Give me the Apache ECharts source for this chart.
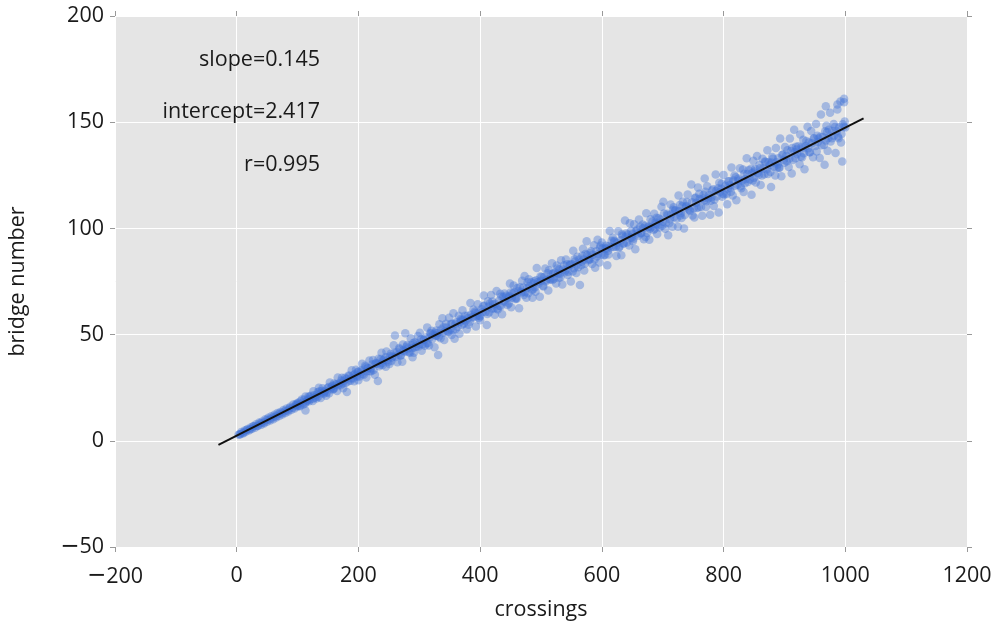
<!DOCTYPE html>
<html>
<head>
<meta charset="utf-8">
<title>bridge number vs crossings</title>
<script src="https://cdn.jsdelivr.net/npm/echarts@6/dist/echarts.min.js"></script>
<style>
  html, body { margin: 0; padding: 0; background: #ffffff; }
  #chart { width: 993px; height: 625px; }
</style>
</head>
<body>
<div id="chart"></div>
<script>
// Sampled knots: crossing count and the matching bridge number
const crossings = [
  3,6,8,11,13,15,18,20,23,25,27,30,32,35,37,40,42,45,47,50,52,55,57,60,62,65,67,70,72,75,77,80,82,85,88,90,93,95,98,100,
  101,104,107,109, 112,113,113,116,118, 120,125,126,129, 131,133,135,138, 141,144,147,149,
  152,153,156,158, 160,165,166,169, 171,173,175,178, 181,184,187,189, 192,193,196,198,
  200,205,206,209, 211,213,215,218, 221,224,227,229, 232,233,236,238, 240,245,246,249,
  251,253,255,258, 260,264,267,269, 272,273,277,278, 280,285,286,289, 291,293,295,298,
  301,304,307,309, 312,313,316,318, 320,325,326,329, 331,333,335,338, 341,344,347,349,
  352,353,356,358, 360,365,366,369, 371,373,375,378, 381,384,387,389, 392,393,396,398,
  400,405,406,409, 411,413,415,418, 421,424,427,429, 432,433,436,438, 440,445,446,449,
  451,453,455,458, 461,464,467,469, 472,473,476,478, 480,485,486,489, 491,493,495,498,
  501,504,507,509, 512,513,516,518, 520,525,526,529, 531,533,535,538, 541,544,547,549,
  552,553,556,558, 560,564,566,569, 571,573,575,578, 581,584,587,589, 592,593,596,598,
  600,605,606,609, 611,613,615,618, 621,624,627,629, 632,633,636,638, 640,645,646,649,
  651,653,655,658, 661,664,667,669, 672,673,676,678, 680,685,686,689, 691,693,695,698,
  701,704,707,709, 712,713,716,718, 720,725,726,729, 731,733,735,738, 741,744,747,749,
  752,753,756,758, 760,765,766,769, 771,773,775,778, 781,784,787,789, 792,793,796,798,
  800,805,806,809, 811,813,815,818, 821,824,827,829, 832,833,836,838, 840,845,846,849,
  851,853,855,858, 861,864,867,869, 872,873,876,878, 880,885,886,889, 891,893,895,898,
  901,904,907,909, 912,913,916,918, 920,925,926,929, 931,933,935,938, 941,944,947,949,
  952,953,956,958, 960,965,966,969, 971,973,975,978, 981,984,987,989, 992,993,996,998,
  998,1000,995,987,968,
  5,10,16,22,28,34,39,44,49,54,59,64,69,74,79,84,87,92,97,99,
  100,103,105,108, 111,114,117,119, 120,122,125,127, 132,134,136,139, 140,143,145,148,
  151,154,157,159, 160,162,165,167, 172,174,176,179, 180,183,185,188, 191,194,197,199,
  200,202,205,207, 212,214,216,219, 220,223,225,228, 231,234,237,239, 240,242,245,247,
  252,254,256,259, 261,263,266,268, 270,274,275,279, 281,283,287,288, 290,292,296,299,
  300,303,305,308, 311,314,317,319, 321,323,327,328, 330,332,336,339, 340,342,345,348,
  351,354,355,359, 361,363,367,368, 370,372,376,379, 380,383,385,388, 391,394,397,399,
  400,402,404,407, 412,414,416,419, 420,422,425,428, 431,434,435,439, 441,443,447,448,
  450,452,456,459, 460,463,465,468, 471,474,477,479, 481,483,487,488, 490,492,496,499,
  500,503,505,508, 511,514,517,519, 521,523,527,528, 530,532,536,539, 540,543,545,548,
  551,554,555,559, 561,563,567,568, 570,572,576,579, 580,582,585,588, 591,594,597,599,
  601,603,607,608, 610,612,616,619, 620,623,625,628, 631,634,635,639, 641,643,647,648,
  650,652,656,659, 660,663,665,668, 671,674,677,679, 681,683,687,688, 690,692,696,699,
  700,702,705,708, 711,714,717,719, 721,723,727,728, 730,732,736,739, 740,742,745,748,
  751,754,755,759, 761,763,767,768, 770,772,776,779, 780,783,785,788, 791,794,797,799,
  801,803,807,808, 810,812,816,819, 820,823,825,828, 831,834,835,839, 841,843,847,848,
  850,852,856,859, 860,863,865,868, 871,874,877,879, 881,883,887,888, 890,892,896,899,
  900,903,905,908, 911,914,917,919, 921,923,927,928, 930,932,936,939, 940,942,945,948,
  951,954,955,959, 961,963,967,968, 970,972,976,979, 981,983,986,988, 990,994,997,999
];
const bridgeNumbers = [
  2.9,3.1,4.2,3.6,4.8,4.3,5.6,4.9,6.3,5.5,6.9,6.2,7.8,7.0,8.6,7.5,9.1,8.2,10.1,9.0,
  10.8,9.6,11.5,10.2,12.3,11.0,13.1,11.7,13.6,12.4,14.5,13.1,15.2,13.8,16.0,14.6,17.1,15.2,17.5,16.2,
  17.9,16.3,19.4,17.0, 17.4,20.9,14.3,18.8,20.8, 20.7,18.7,23.3,20.4, 19.9,22.9,25.0,20.2, 24.7,22.7,21.2,24.9,
  22.4,27.5,25.4,24.2, 27.0,23.5,29.8,27.1, 26.2,29.7,24.7,29.7, 23.0,30.8,28.3,33.2, 31.0,28.0,33.5,30.2,
  28.5,33.2,36.3,31.1, 35.3,29.8,34.1,37.8, 32.8,38.0,31.1,36.6, 28.2,38.6,35.8,41.5, 37.8,34.9,42.0,37.1,
  36.2,41.0,39.1,45.0, 49.6,37.0,43.7,40.2, 37.2,45.3,50.6,42.1, 45.1,41.5,48.3,39.3, 41.4,46.4,44.3,49.3,
  50.9,42.4,47.6,44.8, 45.8,53.4,44.9,50.7, 51.8,44.1,50.9,49.5, 40.4,54.9,48.3,57.7, 47.5,55.1,51.6,57.9,
  55.0,49.8,60.0,48.1, 52.6,58.9,50.4,56.8, 61.5,55.1,58.9,52.5, 54.6,64.9,58.3,61.8, 60.3,53.8,64.3,57.8,
  56.8,63.5,68.4,60.7, 54.5,65.7,60.5,68.7, 64.2,59.3,70.5,61.8, 63.5,69.2,59.6,67.8, 69.4,63.9,67.5,74.0,
  62.9,69.4,73.1,66.8, 71.9,62.4,70.2,75.4, 68.6,77.6,67.4,74.6, 76.1,71.0,67.4,75.1, 70.2,81.3,74.8,67.8,
  77.1,72.6,81.1,75.8, 70.8,80.3,75.9,83.6, 78.8,74.1,82.5,76.6, 78.6,85.0,73.6,82.7, 85.3,78.1,82.6,75.0,
  79.7,89.5,84.4,79.0, 86.6,73.3,82.6,90.4, 80.2,88.0,94.0,85.0, 88.4,83.2,92.1,81.5, 86.8,94.6,84.0,91.9,
  93.4,87.5,90.6,82.6, 87.7,98.8,91.1,95.6, 93.7,87.0,98.7,91.4, 87.4,97.3,92.9,103.7, 97.6,91.9,102.4,95.6,
  93.9,101.9,90.2,99.4, 104.2,97.6,101.8,94.9, 96.0,107.1,100.6,94.7, 104.3,99.3,106.9,102.0, 97.4,104.8,100.4,110.2,
  112.6,99.8,106.9,96.8, 104.3,111.3,100.8,109.9, 108.2,100.8,115.5,106.1, 104.9,112.6,100.0,110.2, 116.0,108.7,120.7,106.1,
  105.1,114.2,109.6,119.3, 116.3,105.9,114.1,123.5, 110.1,119.9,114.1,106.4, 117.9,110.5,125.4,115.0, 107.5,121.5,118.7,114.9,
  125.2,116.2,111.4,122.2, 119.0,128.7,115.5,124.9, 113.3,123.4,128.3,118.9, 127.7,117.1,123.2,133.0, 121.9,128.1,115.8,131.9,
  126.8,121.6,134.1,125.3, 120.4,132.8,125.5,131.3, 136.8,125.6,129.9,119.5, 133.6,124.9,137.8,130.1, 128.5,142.3,124.6,134.8,
  138.3,131.6,128.9,142.3, 125.8,137.8,146.4,133.0, 137.2,130.2,144.2,133.5, 141.7,127.8,138.8,147.9, 135.9,145.9,133.5,142.4,
  149.1,136.2,142.3,133.2, 153.6,139.3,130.0,148.3, 136.5,146.4,154.4,142.4, 149.2,135.5,158.3,142.5, 159.7,140.4,149.0,159.4,
  161.0,147.5,131.5,156.0,157.5,
  3.1,3.7,5.1,5.4,6.8,7.1,8.3,8.5,9.8,10.1,11.0,11.6,12.6,13.0,13.9,14.4,15.3,15.6,16.8,16.6,
  17.4,16.5,18.6,17.8, 19.4,18.3,19.6,18.6, 19.4,21.2,19.8,21.4, 21.8,20.8,23.3,22.4, 23.5,22.2,23.5,22.7,
  25.3,24.3,25.9,24.7, 24.5,26.4,26.8,26.1, 28.4,26.9,28.3,27.2, 29.1,27.9,30.5,29.4, 29.3,31.4,30.8,32.3,
  32.6,30.3,32.4,31.5, 34.7,32.8,34.2,32.7, 34.1,36.0,33.3,36.3, 36.3,35.1,38.5,36.6, 35.7,38.2,39.3,37.9,
  39.8,37.6,39.7,41.5, 39.4,41.7,40.6,43.1, 40.3,42.7,42.2,44.3, 43.5,41.7,45.0,43.6, 46.1,43.9,45.8,44.4,
  45.3,47.8,45.5,47.5, 48.6,46.1,48.6,50.4, 47.8,50.0,49.5,51.9, 50.8,49.0,52.4,50.9, 53.5,51.6,53.3,51.2,
  52.4,55.1,52.0,55.1, 55.8,53.7,55.9,57.4, 54.5,57.0,56.4,58.9, 57.7,56.1,59.4,58.1, 60.8,58.6,60.4,58.9,
  58.5,61.9,60.6,63.6, 59.7,63.2,64.6,62.3, 65.6,62.3,64.5,62.3, 65.9,63.4,67.9,65.8, 65.4,68.3,64.7,68.1,
  69.8,67.3,69.8,67.2, 66.9,70.4,72.3,69.6, 72.2,70.0,71.9,69.5, 72.8,74.6,71.4,74.1, 72.3,75.6,73.9,77.4,
  75.3,73.0,77.1,75.1, 78.9,76.1,78.5,75.7, 76.3,79.1,81.1,78.8, 80.7,77.0,80.7,79.4, 80.2,83.1,79.6,83.1,
  83.1,81.2,85.5,82.9, 81.7,85.3,84.3,87.1, 85.3,83.4,87.5,85.6, 85.4,89.2,87.6,85.4, 89.3,88.0,91.0,87.6,
  90.5,87.4,91.8,90.4, 89.5,91.7,94.2,91.2, 94.2,91.4,93.2,90.9, 94.4,96.5,92.9,96.1, 93.4,97.1,95.6,98.8,
  97.4,95.1,98.7,97.6, 96.6,100.8,97.9,100.1, 101.3,97.8,100.9,99.8, 100.5,103.3,99.8,102.8, 105.0,101.5,104.2,101.2,
  103.1,107.0,102.6,106.2, 102.6,106.6,108.8,105.4, 108.6,104.7,108.1,111.0, 107.3,110.5,106.3,110.5, 112.4,109.4,108.2,112.3,
  109.5,114.6,112.1,109.9, 113.9,110.1,115.8,113.3, 117.2,112.8,115.7,113.0, 114.6,118.4,113.5,117.7, 118.9,117.1,121.0,116.3,
  116.0,120.1,118.7,122.2, 120.4,117.2,122.6,120.1, 124.1,120.5,122.6,119.8, 122.6,125.7,121.3,125.6, 127.4,123.0,126.1,122.5,
  123.8,128.0,126.1,129.9, 128.3,124.9,128.2,131.5, 127.9,131.1,126.6,131.0, 132.8,129.0,131.2,128.7, 133.0,128.6,134.6,132.2,
  130.9,134.2,136.8,132.8, 136.4,132.2,135.9,138.4, 135.0,138.7,133.9,138.3, 137.7,135.4,141.1,137.7, 140.5,135.8,140.1,142.3,
  138.8,143.6,140.7,143.2, 139.2,143.0,145.7,141.4, 145.3,142.6,140.9,145.8, 143.6,147.7,145.7,143.3, 147.6,144.5,147.8,150.3
];

// Least-squares fit shown in the upper-left corner
const slope = 0.145;
const intercept = 2.417;
const rValue = 0.995;
const fitSpan = [-30, 1030];

// Axis ticks
const xTicks = { min: -200, max: 1200, step: 200 };
const yTicks = { min: -50, max: 200, step: 50 };

const points = crossings.map((c, i) => [c, bridgeNumbers[i]]);
const fitLine = fitSpan.map(x => [x, slope * x + intercept]);

const FONT = '"Open Sans", "Noto Sans", sans-serif';
const FS = 21.5;
const TEXT = '#1a1a1a';
// negative tick values get a long minus sign
const minusFmt = v => (v < 0 ? '{m|\u2212}{n|' + Math.abs(v) + '}' : '{n|' + v + '}');
const minusRich = {
  m: { fontFamily: '"DejaVu Sans"', fontSize: 23, color: TEXT },
  n: { fontFamily: FONT, fontSize: FS, color: TEXT }
};
const tickStyle = { show: true, inside: false, length: 5, lineStyle: { color: '#999', width: 1 } };
const hiddenLine = { show: false, onZero: false };

const chart = echarts.init(document.getElementById('chart'), null, { renderer: 'canvas' });

chart.setOption({
  animation: false,
  backgroundColor: '#ffffff',
  grid: {
    left: 115, right: 26, top: 16, bottom: 78,
    containLabel: false,
    outerBoundsMode: 'none',
    show: true, backgroundColor: '#e5e5e5', borderWidth: 0
  },
  xAxis: [
    {
      type: 'value', position: 'bottom',
      min: xTicks.min, max: xTicks.max, interval: xTicks.step,
      name: 'crossings', nameLocation: 'middle', nameGap: 52,
      nameTextStyle: { fontFamily: FONT, fontSize: FS, color: TEXT },
      axisLine: hiddenLine,
      axisTick: tickStyle,
      axisLabel: { formatter: minusFmt, rich: minusRich, fontFamily: FONT, fontSize: FS, color: TEXT, margin: 18 },
      splitLine: { show: true, lineStyle: { color: '#ffffff', width: 1 } }
    },
    {
      type: 'value', position: 'top',
      min: xTicks.min, max: xTicks.max, interval: xTicks.step,
      axisLine: hiddenLine, axisTick: tickStyle,
      axisLabel: { show: false }, splitLine: { show: false }
    }
  ],
  yAxis: [
    {
      type: 'value', position: 'left',
      min: yTicks.min, max: yTicks.max, interval: yTicks.step,
      name: 'bridge number', nameLocation: 'middle', nameGap: 86, nameRotate: 90,
      nameTextStyle: { fontFamily: FONT, fontSize: FS, color: TEXT },
      axisLine: hiddenLine,
      axisTick: tickStyle,
      axisLabel: { formatter: minusFmt, rich: minusRich, fontFamily: FONT, fontSize: FS, color: TEXT, margin: 11 },
      splitLine: { show: true, lineStyle: { color: '#ffffff', width: 1 } }
    },
    {
      type: 'value', position: 'right',
      min: yTicks.min, max: yTicks.max, interval: yTicks.step,
      axisLine: hiddenLine, axisTick: tickStyle,
      axisLabel: { show: false }, splitLine: { show: false }
    }
  ],
  series: [
    {
      type: 'scatter',
      data: points,
      symbol: 'circle',
      symbolSize: 8.5,
      itemStyle: { color: 'rgba(66, 116, 214, 0.5)', borderWidth: 0 },
      z: 2
    },
    {
      type: 'line',
      data: fitLine,
      symbol: 'none',
      lineStyle: { color: '#111111', width: 2 },
      z: 3
    }
  ],
  graphic: [
    { type: 'text', z: 100, x: 320, y: 60, style: { text: 'slope=' + slope.toFixed(3), font: FS + 'px ' + FONT, fill: TEXT, textAlign: 'right', textVerticalAlign: 'middle' } },
    { type: 'text', z: 100, x: 320, y: 112, style: { text: 'intercept=' + intercept.toFixed(3), font: FS + 'px ' + FONT, fill: TEXT, textAlign: 'right', textVerticalAlign: 'middle' } },
    { type: 'text', z: 100, x: 320, y: 165, style: { text: 'r=' + rValue.toFixed(3), font: FS + 'px ' + FONT, fill: TEXT, textAlign: 'right', textVerticalAlign: 'middle' } }
  ]
});
</script>
</body>
</html>
